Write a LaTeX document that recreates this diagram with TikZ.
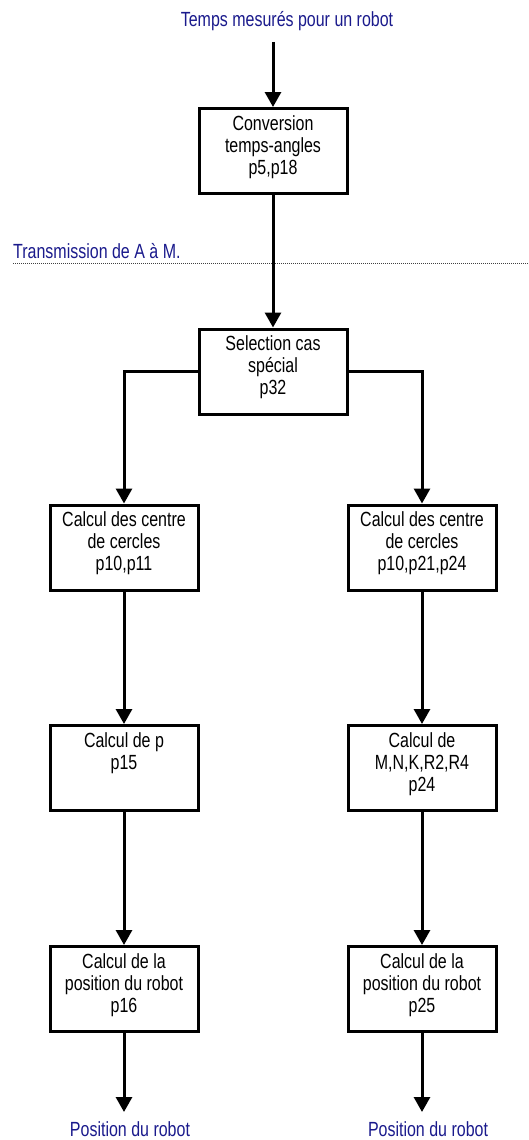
\documentclass[tikz,border=0pt]{standalone}
\usepackage{fontspec}
\setmainfont{Liberation Sans}[FakeStretch=0.78]
\usetikzlibrary{arrows.meta,calc}
\definecolor{labelblue}{RGB}{26,26,140}
\tikzset{
  stepbox/.style={draw, line width=3pt, minimum width=148pt, minimum height=85pt, inner sep=0pt},
  boxtext/.style={anchor=base, inner sep=0pt, font=\fontsize{20.5}{22}\selectfont},
  flow/.style={line width=3pt, -{Triangle[width=16pt,length=15pt]}},
  io/.style={text=labelblue, inner sep=0pt, font=\fontsize{20.5}{22}\selectfont},
}
\newcommand{\boxlines}[1]{\parbox[t]{150pt}{\centering #1}}
\begin{document}
\begin{tikzpicture}[x=1pt,y=-1pt]
  \useasboundingbox (0,0) rectangle (529,1140);

  % input and section marker
  \node[io, anchor=base] (input) at (287,27) {Temps mesurés pour un robot};
  \coordinate (instart) at (273,42);
  \node[io, anchor=base west] (trans) at (13,258) {Transmission de A à M.};
  \draw[black!75, line width=0.8pt, dash pattern=on 1pt off 1pt] (trans.base west |- 0,263) coordinate (dotA) -- (529,263) coordinate (dotB);

  % boxes
  \node[stepbox] (conv) at (273,151) {};
  \node[stepbox] (sel)  at (273,371.5) {};
  \node[stepbox] (cL)   at (124,547.5) {};
  \node[stepbox] (cR)   at (422,547.5) {};
  \node[stepbox] (pL)   at (124,768) {};
  \node[stepbox] (pR)   at (422,768) {};
  \node[stepbox] (rL)   at (124,989) {};
  \node[stepbox] (rR)   at (422,989) {};

  % box contents
  \node[boxtext] (convT) at ($(conv.north)+(0,23)$) {\boxlines{Conversion\\temps-angles\\p5,p18}};
  \node[boxtext] (selT)  at ($(sel.north)+(0,23)$)  {\boxlines{Selection cas\\spécial\\p32}};
  \node[boxtext] (cLT)   at ($(cL.north)+(0,23)$)   {\boxlines{Calcul des centre\\de cercles\\p10,p11}};
  \node[boxtext] (cRT)   at ($(cR.north)+(0,23)$)   {\boxlines{Calcul des centre\\de cercles\\p10,p21,p24}};
  \node[boxtext] (pLT)   at ($(pL.north)+(0,23)$)   {\boxlines{Calcul de p\\p15}};
  \node[boxtext] (pRT)   at ($(pR.north)+(0,23)$)   {\boxlines{Calcul de\\M,N,K,R2,R4\\p24}};
  \node[boxtext] (rLT)   at ($(rL.north)+(0,23)$)   {\boxlines{Calcul de la\\position du robot\\p16}};
  \node[boxtext] (rRT)   at ($(rR.north)+(0,23)$)   {\boxlines{Calcul de la\\position du robot\\p25}};

  % outputs
  \coordinate (outL) at (124,1112);
  \coordinate (outR) at (422,1112);
  \node[io, anchor=base] (posL) at (130,1136) {Position du robot};
  \node[io, anchor=base] (posR) at (428,1136) {Position du robot};

  % connectors
  \draw[flow] (instart) -- (conv.north);
  \draw[flow] (conv.south) -- (sel.north);
  \draw[flow] (sel.west) -| (cL.north);
  \draw[flow] (sel.east) -| (cR.north);
  \draw[flow] (cL.south) -- (pL.north);
  \draw[flow] (cR.south) -- (pR.north);
  \draw[flow] (pL.south) -- (rL.north);
  \draw[flow] (pR.south) -- (rR.north);
  \draw[flow] (rL.south) -- (outL);
  \draw[flow] (rR.south) -- (outR);
\end{tikzpicture}
\end{document}
